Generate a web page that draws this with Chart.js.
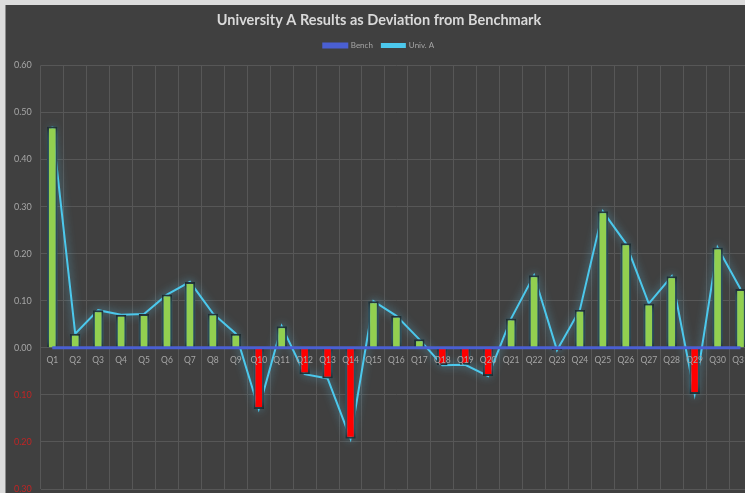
<!DOCTYPE html>
<html>
<head>
<meta charset="utf-8">
<script src="https://cdn.jsdelivr.net/npm/chart.js@4/dist/chart.umd.min.js"></script>
<style>
  html, body { margin: 0; padding: 0; overflow: hidden; background: #dcdcdc; }
  #wrap {
    position: absolute; left: 5px; top: 5px;
    width: 760px; height: 505px;
    background: #404040; border-left: 1px solid #8c8c8c;
  }
</style>
</head>
<body>
<div id="wrap"><canvas id="chart"></canvas></div>
<script>
// Chart data
var labels = ['Q1','Q2','Q3','Q4','Q5','Q6','Q7','Q8','Q9','Q10',
              'Q11','Q12','Q13','Q14','Q15','Q16','Q17','Q18','Q19','Q20',
              'Q21','Q22','Q23','Q24','Q25','Q26','Q27','Q28','Q29','Q30','Q31'];
var univA = [0.47, 0.03, 0.08, 0.07, 0.072, 0.113, 0.14, 0.073, 0.03, -0.13,
             0.046, -0.056, -0.065, -0.193, 0.099, 0.068, 0.018, -0.037, -0.036, -0.06,
             0.062, 0.154, -0.005, 0.081, 0.29, 0.222, 0.094, 0.152, -0.098, 0.213, 0.125];
var bench = labels.map(function() { return 0; });
var yTicks = { min: -0.3, max: 0.6, step: 0.1 };

var green = '#92d050';
var red = '#ff0000';
var gray = '#a6a6a6';
var gridColor = '#575757';

/* Excel style glow on the bars and the Univ. A line */
var glow = {
    id: 'glow',
    beforeDatasetDraw: function(chart, args) {
        args.meta._glow = args.meta.label !== 'Bench';
        if (!args.meta._glow) return;
        var ctx = chart.ctx;
        ctx.save();
        ctx.shadowColor = 'rgba(95, 205, 245, 0.75)';
        ctx.shadowBlur = 8;
    },
    afterDatasetDraw: function(chart, args) {
        if (args.meta._glow) chart.ctx.restore();
    }
};

var ctx = document.getElementById('chart').getContext('2d');
var chart = new Chart(ctx, {
    type: 'bar',
    data: {
        labels: labels,
        datasets: [{
            type: 'line',
            label: 'Bench',
            order: 0,
            data: bench,
            borderColor: '#4a5fd2',
            backgroundColor: '#4a5fd2',
            borderWidth: 3,
            pointRadius: 0
        }, {
            label: 'Deviation',
            order: 1,
            data: univA,
            backgroundColor: univA.map(function(v) { return v < 0 ? red : green; }),
            borderColor: '#1a1a1a',
            borderWidth: 2,
            categoryPercentage: 1,
            barPercentage: 0.46
        }, {
            type: 'line',
            label: 'Univ. A',
            order: 2,
            data: univA,
            borderColor: '#4cc8ec',
            backgroundColor: '#4cc8ec',
            borderWidth: 2,
            pointRadius: 0,
            tension: 0
        }]
    },
    options: {
        responsive: true,
        maintainAspectRatio: false,
        animation: false,
        layout: { padding: { left: 0, right: 14, top: 0, bottom: 21 } },
        plugins: {
            title: {
                display: true,
                text: 'University A Results as Deviation from Benchmark',
                color: '#d9d9d9',
                font: { family: 'Lato', size: 14.5, weight: 'bold' },
                padding: { top: 6.5, bottom: 3.5 }
            },
            legend: {
                display: true,
                labels: {
                    color: gray,
                    font: { family: 'Lato', size: 8 },
                    boxWidth: 23,
                    boxHeight: 3,
                    padding: 9,
                    filter: function(item) { return item.text !== 'Deviation'; }
                }
            },
            tooltip: { enabled: false }
        },
        scales: {
            x: {
                position: { y: 0 },
                grid: { color: gridColor, offset: true, drawTicks: false },
                border: { display: false },
                ticks: {
                    color: gray,
                    font: { family: 'Lato', size: 8.5 },
                    padding: 7,
                    maxRotation: 0,
                    autoSkip: false,
                    z: 1
                }
            },
            y: {
                min: yTicks.min,
                max: yTicks.max,
                grid: { color: gridColor, drawTicks: false },
                border: { display: false },
                ticks: {
                    stepSize: yTicks.step,
                    padding: 9,
                    font: { family: 'Lato', size: 9 },
                    color: function(c) { return c.tick.value < -0.001 ? '#c02424' : gray; },
                    callback: function(v) { return Math.abs(v).toFixed(2); }
                },
                afterFit: function(scale) { scale.width = 34.8; }
            }
        }
    },
    plugins: [glow]
});

// leave a little more room under the legend, as in the Excel original
var legendFit = chart.legend.fit;
chart.legend.fit = function() {
    legendFit.call(this);
    this.height += 6;
};
chart.update();
</script>
</body>
</html>
